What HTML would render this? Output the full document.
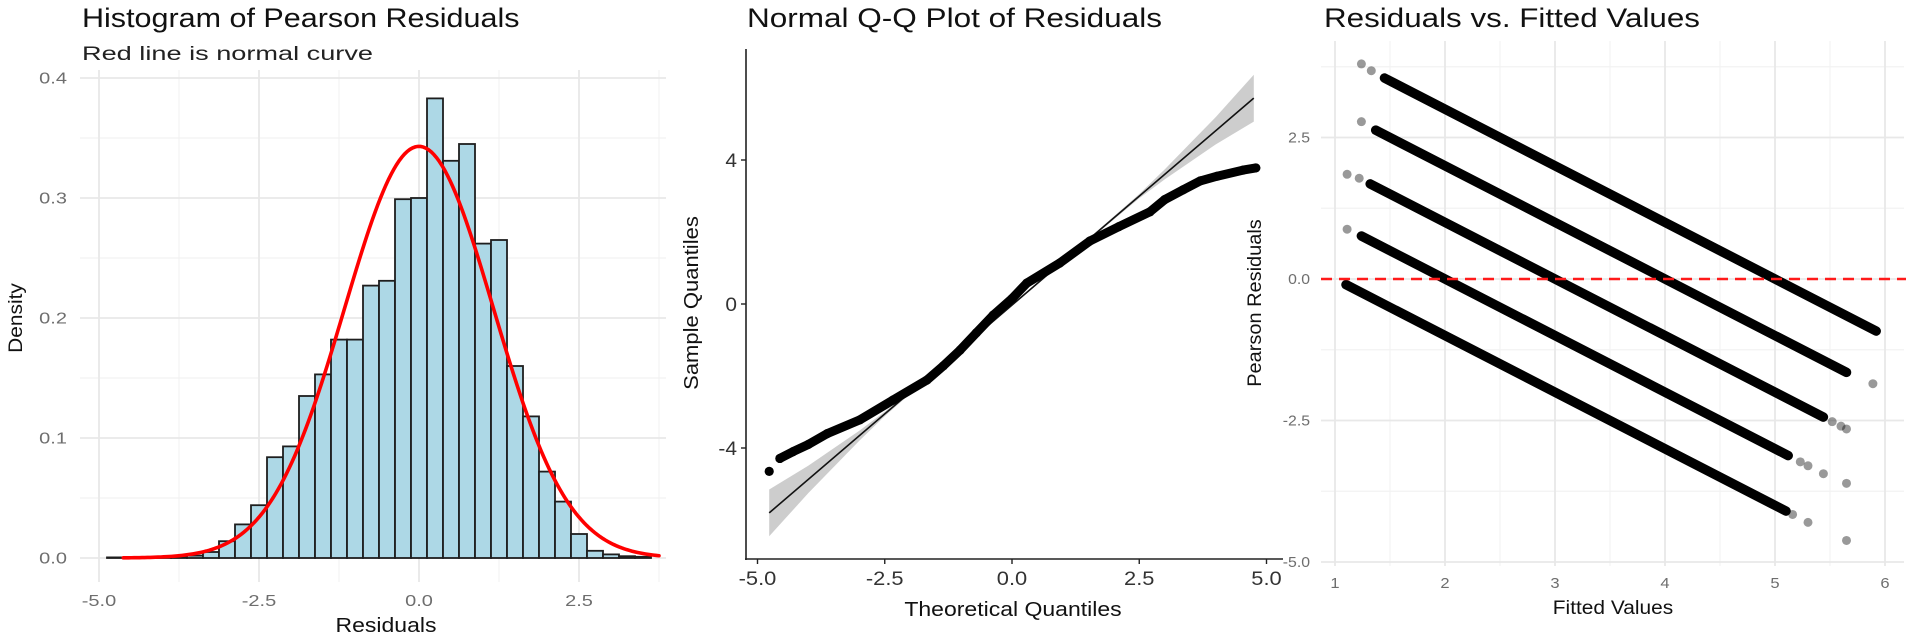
<!DOCTYPE html>
<html><head><meta charset="utf-8"><title>Residual diagnostics</title>
<style>
html,body{margin:0;padding:0;background:#fff;}
svg{display:block;font-family:"Liberation Sans",Arial,sans-serif;}
</style></head>
<body>
<svg id="fig" width="1906" height="636" viewBox="0 0 1906 636" xmlns="http://www.w3.org/2000/svg">
  <g id="hist"></g>
  <g id="qq"></g>
  <g id="resid"></g>
</svg>
<script>
// ---------- Histogram data ----------
const histCenters = [-4.75,-4.5,-4.25,-4.0,-3.75,-3.5,-3.25,-3.0,-2.75,-2.5,-2.25,-2.0,-1.75,-1.5,-1.25,-1.0,-0.75,-0.5,-0.25,0.0,0.25,0.5,0.75,1.0,1.25,1.5,1.75,2.0,2.25,2.5,2.75,3.0,3.25,3.5];
const histDensity = [0.0005,0.0003,0.0005,0.0005,0.001,0.002,0.005,0.014,0.028,0.044,0.084,0.093,0.135,0.153,0.182,0.182,0.227,0.231,0.299,0.300,0.383,0.331,0.345,0.262,0.265,0.160,0.118,0.072,0.047,0.020,0.006,0.003,0.0015,0.001];
const histBinWidth = 0.25;
const normalMean = 0.0;
const normalSd = 1.163;
const normalRange = [-4.62, 3.75];
const histXTicks = [-5, -2.5, 0, 2.5];
const histXTickLabels = ["-5.0","-2.5","0.0","2.5"];
const histYTicks = [0, 0.1, 0.2, 0.3, 0.4];
const histYTickLabels = ["0.0","0.1","0.2","0.3","0.4"];

// ---------- QQ data ----------
const qqTheoretical = [-4.77,-4.56,-4.3,-4.0,-3.63,-2.99,-2.34,-1.67,-1.35,-1.02,-0.7,-0.37,0.0,0.29,0.94,1.53,2.1,2.71,3.0,3.36,3.7,4.03,4.54,4.79];
const qqSample      = [-4.65,-4.29,-4.1,-3.9,-3.6,-3.22,-2.67,-2.11,-1.72,-1.28,-0.8,-0.31,0.15,0.58,1.14,1.75,2.15,2.56,2.9,3.17,3.42,3.55,3.72,3.78];
const qqLineIntercept = -0.03;
const qqLineSlope = 1.21;
const qqBandX    = [-4.77,-4.0,-3.0,-2.5,-1.5,0,1.5,2.5,3.0,4.0,4.75];
const qqBandHalf = [0.65,0.38,0.14,0.06,0.03,0.02,0.03,0.06,0.14,0.38,0.65];
const qqXTicks = [-5, -2.5, 0, 2.5, 5];
const qqXTickLabels = ["-5.0","-2.5","0.0","2.5","5.0"];
const qqYTicks = [-4, 0, 4];
const qqYTickLabels = ["-4","0","4"];

// ---------- Residuals vs fitted data ----------
const bandIntercepts = [5, 4, 3, 2, 1];
const bandStart = [1.45, 1.37, 1.32, 1.24, 1.10];
const bandEnd   = [5.92, 5.65, 5.44, 5.12, 5.10];
const sparseFitted = [1.24,1.33,1.24,1.11,1.22,1.11,5.52,5.6,5.65,5.23,5.3,5.44,5.16,5.3,5.89,5.65,5.65];
const sparseResid  = [3.8,3.68,2.78,1.85,1.78,0.88,-2.52,-2.6,-2.65,-3.23,-3.3,-3.44,-4.16,-4.3,-1.85,-3.61,-4.62];
const residXTicks = [1,2,3,4,5,6];
const residXTickLabels = ["1","2","3","4","5","6"];
const residYTicks = [2.5, 0, -2.5, -5];
const residYTickLabels = ["2.5","0.0","-2.5","-5.0"];
const refLineY = 0;

const NS = "http://www.w3.org/2000/svg";
function mk(parent, tag, attrs){
  const e = document.createElementNS(NS, tag);
  for (const k in attrs) e.setAttribute(k, attrs[k]);
  parent.appendChild(e);
  return e;
}
function txt(parent, x, y, s, size, anchor, color, stretch, rot){
  const e = mk(parent, "text", {x:x, y:y, "font-size":size, "text-anchor":anchor, fill:color});
  e.textContent = s;
  if (rot) e.setAttribute("transform", "rotate(-90 " + x + " " + y + ")");
  const w = e.getComputedTextLength();
  if (w > 0 && stretch) { e.setAttribute("textLength", (w*stretch).toFixed(1)); e.setAttribute("lengthAdjust","spacingAndGlyphs"); }
  return e;
}

// ================= HISTOGRAM =================
(function(){
  const g = document.getElementById("hist");
  const xH = v => 419 + 64*v;
  const yH = d => 558 - 1200*d;
  const L = 80, R = 666, T = 70, B = 582;
  [-3.75,-1.25,1.25,3.75].forEach(v => { const l = mk(g,"line",{x1:xH(v),x2:xH(v),y1:T,y2:B,stroke:"#f2f2f2","stroke-width":1.2});
      });
  [0.05,0.15,0.25,0.35].forEach(v => { const l = mk(g,"line",{x1:L,x2:R,y1:yH(v),y2:yH(v),stroke:"#f2f2f2","stroke-width":1.2});
      });
  histXTicks.forEach((v,i) => {
    const l = mk(g,"line",{x1:xH(v),x2:xH(v),y1:T,y2:B,stroke:"#e8e8e8","stroke-width":1.8});
     
    const t = txt(g, xH(v), 606, histXTickLabels[i], 16, "middle", "#6e6e6e", 1.25);
     
  });
  histYTicks.forEach((v,i) => {
    const l = mk(g,"line",{x1:L,x2:R,y1:yH(v),y2:yH(v),stroke:"#e8e8e8","stroke-width":1.8});
     
    const t = txt(g, 67, yH(v)+5.5, histYTickLabels[i], 16, "end", "#6e6e6e", 1.25);
     
  });
  histCenters.forEach((c,i) => {
    const x0 = xH(c - histBinWidth/2), x1 = xH(c + histBinWidth/2);
    const y = yH(histDensity[i]);
    const r = mk(g,"rect",{x:x0, y:y, width:x1-x0, height:Math.max(yH(0)-y,0.6), fill:"#add8e6", stroke:"#1e1e1e","stroke-width":1.8});
     
  });
  let d = "";
  const n = 200;
  for (let k=0;k<=n;k++){
    const v = normalRange[0] + (normalRange[1]-normalRange[0])*k/n;
    const dens = Math.exp(-0.5*Math.pow((v-normalMean)/normalSd,2))/(normalSd*Math.sqrt(2*Math.PI));
    d += (k?"L":"M") + xH(v).toFixed(2) + "," + yH(dens).toFixed(2);
  }
  const p = mk(g,"path",{d:d, fill:"none", stroke:"#ff0000","stroke-width":3.6,"stroke-linecap":"round"});
   
  let t;
  t = txt(g, 82, 27, "Histogram of Pearson Residuals", 27, "start", "#111", 1.13);
   
  t = mk(g,"text",{x:82,y:60,"font-size":19,fill:"#222",textLength:291,lengthAdjust:"spacingAndGlyphs"});
  t.textContent = "Red line is normal curve";
   
  t = txt(g, 22, 318, "Density", 19, "middle", "#111", 1.1, true);
   
  t = txt(g, 386, 632, "Residuals", 20, "middle", "#111", 1.15);
   
})();

// ================= QQ PLOT =================
(function(){
  const g = document.getElementById("qq");
  const xQ = v => 1012 + 50.9*v;
  const yQ = v => 304 - 36*v;
  let up = [], lo = [];
  qqBandX.forEach((x,i) => {
    const yc = qqLineIntercept + qqLineSlope*x;
    up.push(xQ(x).toFixed(1)+","+yQ(yc+qqBandHalf[i]).toFixed(1));
    lo.unshift(xQ(x).toFixed(1)+","+yQ(yc-qqBandHalf[i]).toFixed(1));
  });
  const band = mk(g,"polygon",{points:up.concat(lo).join(" "), fill:"#c4c4c4", opacity:0.85});
   
  const x0 = qqBandX[0], x1 = qqBandX[qqBandX.length-1];
  const ln = mk(g,"line",{x1:xQ(x0),y1:yQ(qqLineIntercept+qqLineSlope*x0),x2:xQ(x1),y2:yQ(qqLineIntercept+qqLineSlope*x1),stroke:"#111","stroke-width":1.6});
   
  let d = "";
  for (let i=1;i<qqTheoretical.length;i++) d += (i>1?"L":"M") + xQ(qqTheoretical[i]).toFixed(1)+","+yQ(qqSample[i]).toFixed(1);
  const pl = mk(g,"path",{d:d, fill:"none", stroke:"#000","stroke-width":9,"stroke-linecap":"round","stroke-linejoin":"round"});
   
  qqTheoretical.forEach((v,i) => {
    const c = mk(g,"circle",{cx:xQ(v),cy:yQ(qqSample[i]),r:4.6,fill:"#000"});
     
  });
  const ax = mk(g,"line",{x1:746,y1:49,x2:746,y2:560,stroke:"#222","stroke-width":1.6});
   
  const ay = mk(g,"line",{x1:745,y1:559,x2:1283,y2:559,stroke:"#222","stroke-width":1.6});
   
  qqXTicks.forEach((v,i) => {
    const tk = mk(g,"line",{x1:xQ(v),x2:xQ(v),y1:559,y2:564,stroke:"#222","stroke-width":1.4});
     
    const t = txt(g, xQ(v), 585, qqXTickLabels[i], 19, "middle", "#333", 1.15);
     
  });
  qqYTicks.forEach((v,i) => {
    const tk = mk(g,"line",{x1:741,x2:746,y1:yQ(v),y2:yQ(v),stroke:"#222","stroke-width":1.4});
     
    const t = txt(g, 737, yQ(v)+7, qqYTickLabels[i], 19, "end", "#333", 1.1);
     
  });
  let t;
  t = mk(g,"text",{x:747,y:27,"font-size":27,fill:"#111",textLength:415,lengthAdjust:"spacingAndGlyphs"});
  t.textContent = "Normal Q-Q Plot of Residuals";
   
  t = txt(g, 698, 303, "Sample Quantiles", 20, "middle", "#111", 1.1, true);
   
  t = txt(g, 1013, 616, "Theoretical Quantiles", 20, "middle", "#111", 1.15);
   
})();

// ================= RESIDUALS VS FITTED =================
(function(){
  const g = document.getElementById("resid");
  const xR = f => 1335 + 110*(f-1);
  const yR = r => 279 - 56.6*r;
  const L = 1321, R = 1904, T = 41, B = 566;
  [1.5,2.5,3.5,4.5,5.5].forEach(v => { const l = mk(g,"line",{x1:xR(v),x2:xR(v),y1:T,y2:B,stroke:"#f2f2f2","stroke-width":1.2});
      });
  [3.75,1.25,-1.25,-3.75].forEach(v => { const l = mk(g,"line",{x1:L,x2:R,y1:yR(v),y2:yR(v),stroke:"#f2f2f2","stroke-width":1.2});
      });
  residXTicks.forEach((v,i) => {
    const l = mk(g,"line",{x1:xR(v),x2:xR(v),y1:T,y2:B,stroke:"#e8e8e8","stroke-width":1.8});
     
    const t = txt(g, xR(v), 588, residXTickLabels[i], 15, "middle", "#6e6e6e", 1.1);
     
  });
  residYTicks.forEach((v,i) => {
    const l = mk(g,"line",{x1:L,x2:R,y1:yR(v),y2:yR(v),stroke:"#e8e8e8","stroke-width":1.8});
     
    const t = txt(g, 1310, yR(v)+5, residYTickLabels[i], 15, "end", "#6e6e6e", 1.05);
     
  });
  sparseFitted.forEach((f,i) => {
    const c = mk(g,"circle",{cx:xR(f),cy:yR(sparseResid[i]),r:4.5,fill:"#000",opacity:0.4});
     
  });
  bandIntercepts.forEach((k,i) => {
    const l = mk(g,"line",{x1:xR(bandStart[i]),y1:yR(k-bandStart[i]),x2:xR(bandEnd[i]),y2:yR(k-bandEnd[i]),stroke:"#000","stroke-width":9.5,"stroke-linecap":"round"});
     
  });
  const ref = mk(g,"line",{x1:L,x2:1906,y1:yR(refLineY),y2:yR(refLineY),stroke:"#ff1a1a","stroke-width":2.6,"stroke-dasharray":"11 7"});
   
  let t;
  t = mk(g,"text",{x:1324,y:27,"font-size":27,fill:"#111",textLength:376,lengthAdjust:"spacingAndGlyphs"});
  t.textContent = "Residuals vs. Fitted Values";
   
  t = txt(g, 1261, 303, "Pearson Residuals", 19, "middle", "#111", 1.05, true);
   
  t = txt(g, 1613, 614, "Fitted Values", 19, "middle", "#111", 1.1);
   
})();
</script>
</body></html>
